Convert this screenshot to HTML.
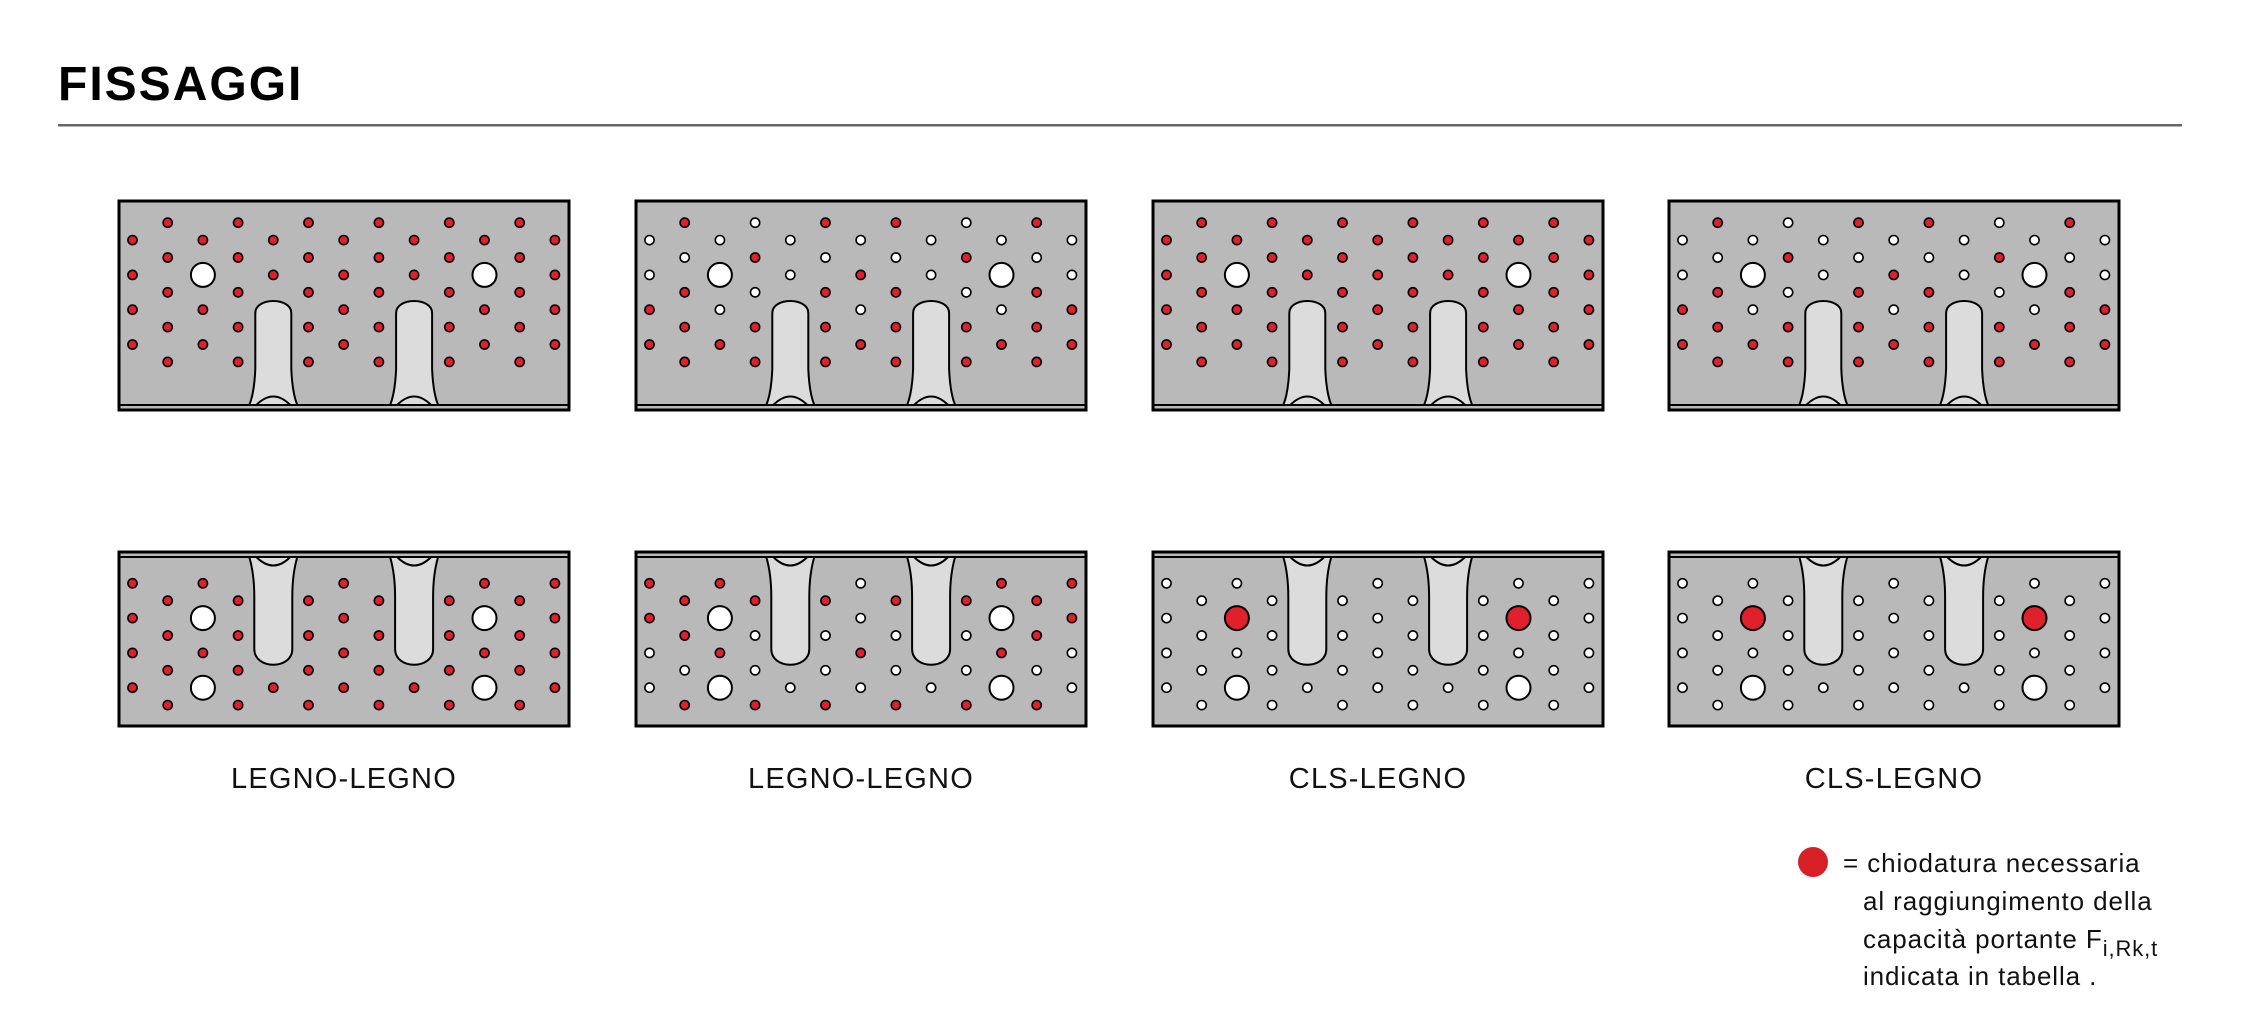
<!DOCTYPE html>
<html><head><meta charset="utf-8">
<style>
html,body{margin:0;padding:0;background:#fff;width:2257px;height:1013px;overflow:hidden}
svg{display:block}
</style></head><body>
<svg id="s" width="2257" height="1013" viewBox="0 0 2257 1013" xmlns="http://www.w3.org/2000/svg">
<text x="58" y="100" font-family="Liberation Sans, sans-serif" font-weight="bold" font-size="48" letter-spacing="2" fill="#000">FISSAGGI</text>
<rect x="58" y="124" width="2124" height="2.5" fill="#666"/>
<g font-family="Liberation Sans, sans-serif" font-size="29" letter-spacing="1.2" fill="#111" text-anchor="middle">
<text x="344" y="788">LEGNO-LEGNO</text>
<text x="861" y="788">LEGNO-LEGNO</text>
<text x="1378" y="788">CLS-LEGNO</text>
<text x="1894" y="788">CLS-LEGNO</text>
</g>
<circle cx="1813" cy="862" r="15" fill="#d71f26"/>
<g font-family="Liberation Sans, sans-serif" font-size="26" letter-spacing="0.9" fill="#111">
<text x="1843" y="872">= chiodatura necessaria</text>
<text x="1863" y="910">al raggiungimento della</text>
<text x="1863" y="948">capacità portante F<tspan font-size="22" dy="8">i,Rk,t</tspan></text>
<text x="1863" y="985">indicata in tabella .</text>
</g>
<g id="plates"></g>
</svg>
<script>
var G=document.getElementById('plates');
var h='';
var RED='#e0202a';
function col(k){return 13.5+k*35.2;}
var top1=[".r.r.r.r.","r.r.r.r.r",".r.W.r.r.","r.r.r.r.r",".r.r.....","r.r.r.r.r",".r.r.r.r.","r.r.r.r.r",".r.r.....","r.r.r.r.r",".r.W.r.r.","r.r.r.r.r",".r.r.r.r."];
var top2=[".w.w.r.r.","r.w.r.r.r",".w.W.w.r.","w.r.w.r.r",".w.w.....","r.w.r.r.r",".w.r.w.r.","r.w.r.r.r",".w.w.....","w.r.w.r.r",".w.W.w.r.","r.w.r.r.r",".w.w.r.r."];
var bot1=["r.r.r.r.",".r.r.r.r","r.W.r.W.",".r.r.r.r","......r.",".r.r.r.r","r.r.r.r.",".r.r.r.r","......r.",".r.r.r.r","r.W.r.W.",".r.r.r.r","r.r.r.r."];
var bot2=["r.r.w.w.",".r.r.w.r","r.W.r.W.",".r.w.w.r","......w.",".r.w.w.r","w.w.r.w.",".r.w.w.r","......w.",".r.w.w.r","r.W.r.W.",".r.r.w.r","r.r.w.w."];
var bot3=["w.w.w.w.",".w.w.w.w","w.R.w.W.",".w.w.w.w","......w.",".w.w.w.w","w.w.w.w.",".w.w.w.w","......w.",".w.w.w.w","w.R.w.W.",".w.w.w.w","w.w.w.w."];
var xs=[119,636,1153,1669];
var tops=[top1,top2,top1,top2];
var bots=[bot1,bot2,bot3,bot3];
function holes(x0,y0,r0,map){
  for(var c=0;c<13;c++){var s=map[c];for(var r=0;r<s.length;r++){var ch=s[r];if(ch=='.')continue;
    var cx=x0+col(c),cy=y0+r0+r*17.4;
    var big=(ch=='W'||ch=='R');var fill=(ch=='r'||ch=='R')?RED:'#fff';
    h+='<circle cx="'+cx.toFixed(1)+'" cy="'+cy.toFixed(1)+'" r="'+(big?12:4.6)+'" fill="'+fill+'" stroke="#000" stroke-width="'+(big?2:1.6)+'"/>';
  }}
}
for(var p=0;p<4;p++){
  var x=xs[p];
  var y=201;
  h+='<rect x="'+x+'" y="'+y+'" width="450" height="209" fill="#b9b9b9" stroke="#000" stroke-width="3"/>';
  var ys=y+204;
  [4,8].forEach(function(k){var cx=x+col(k);
    h+='<path d="M'+(cx-18)+' '+(y+112)+' C'+(cx-18)+' '+(y+96)+' '+(cx+18)+' '+(y+96)+' '+(cx+18)+' '+(y+112)+' L'+(cx+18)+' '+(y+168)+' Q'+(cx+19)+' '+(y+192)+' '+(cx+24)+' '+ys+' L'+(cx-24)+' '+ys+' Q'+(cx-19)+' '+(y+192)+' '+(cx-18)+' '+(y+168)+' Z" fill="#dcdcdc" stroke="#000" stroke-width="2"/>';
    h+='<path d="M'+(cx-17)+' '+ys+' Q'+cx+' '+(ys-17)+' '+(cx+17)+' '+ys+'" fill="#dcdcdc" stroke="#000" stroke-width="2"/>';
  });
  h+='<line x1="'+x+'" y1="'+ys+'" x2="'+(x+450)+'" y2="'+ys+'" stroke="#000" stroke-width="2"/>';
  holes(x,y,21.7,tops[p]);
  y=552;
  h+='<rect x="'+x+'" y="'+y+'" width="450" height="174" fill="#b9b9b9" stroke="#000" stroke-width="3"/>';
  ys=y+5;
  [4,8].forEach(function(k){var cx=x+col(k);
    h+='<path d="M'+(cx-24)+' '+ys+' Q'+(cx-19)+' '+(y+22)+' '+(cx-19)+' '+(y+45)+' L'+(cx-19)+' '+(y+97)+' C'+(cx-19)+' '+(y+118)+' '+(cx+19)+' '+(y+118)+' '+(cx+19)+' '+(y+97)+' L'+(cx+19)+' '+(y+45)+' Q'+(cx+19)+' '+(y+22)+' '+(cx+24)+' '+ys+' Z" fill="#dcdcdc" stroke="#000" stroke-width="2"/>';
    h+='<path d="M'+(cx-17)+' '+ys+' Q'+cx+' '+(ys+17)+' '+(cx+17)+' '+ys+'" fill="#dcdcdc" stroke="#000" stroke-width="2"/>';
  });
  h+='<line x1="'+x+'" y1="'+ys+'" x2="'+(x+450)+'" y2="'+ys+'" stroke="#000" stroke-width="2"/>';
  holes(x,y,31.3,bots[p]);
}
G.innerHTML=h;
</script>
</body></html>
